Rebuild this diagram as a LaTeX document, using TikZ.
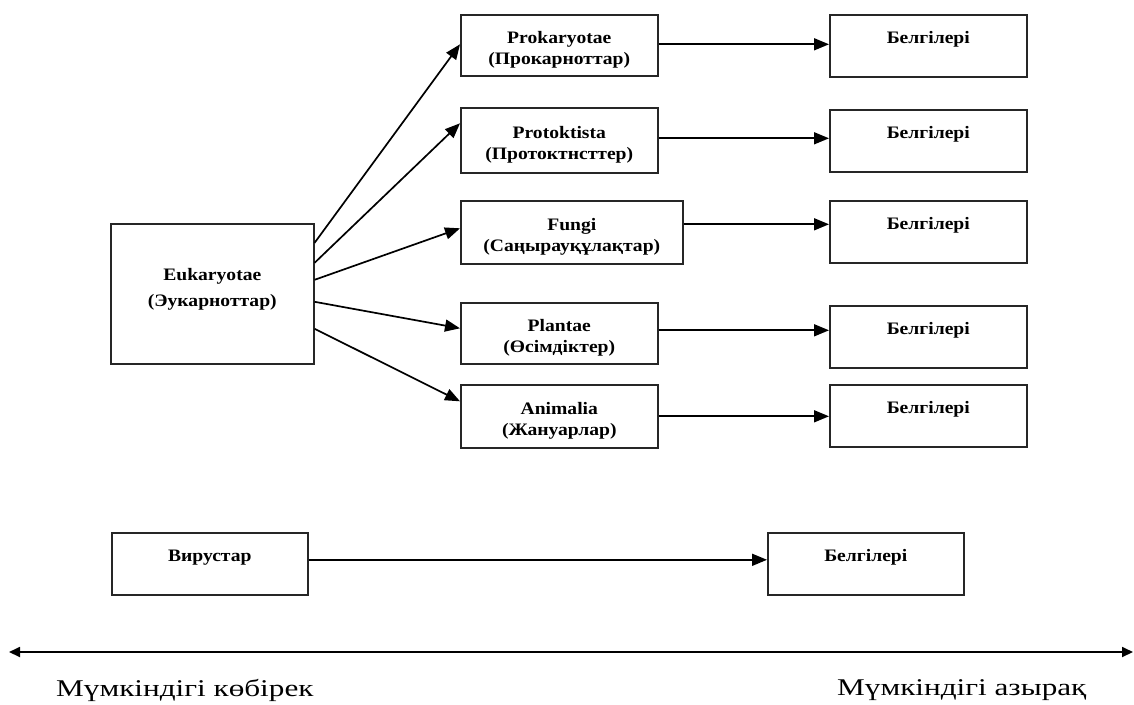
\documentclass[tikz,border=0pt]{standalone}
\usepackage{fontspec}
\setmainfont{Liberation Serif}
\newfontfamily\boxfont[FakeStretch=1.12]{Liberation Serif}
\newfontfamily\axisfont[FakeStretch=1.3]{Liberation Serif}
\usetikzlibrary{arrows.meta}
\begin{document}
\begin{tikzpicture}[x=1pt,y=-1pt,
  box/.style={draw=black!85, line width=1.6pt, rectangle, inner sep=0pt, anchor=north west,
    align=center, font=\boxfont\bfseries\fontsize{17.5}{21}\selectfont},
  onebox/.style={box, text height=29pt, text depth=33pt},
  arr/.style={line width=1.7pt, -{Triangle[length=15pt,width=12pt]}},
  axisarr/.style={line width=1.8pt, {Triangle[length=11pt,width=10pt]}-{Triangle[length=11pt,width=10pt]}},
  axislabel/.style={anchor=west, inner sep=0pt, font=\axisfont\fontsize{24}{27}\selectfont}]
\useasboundingbox (0,0) rectangle (1134,704);
% left box
\node[box, minimum width=203pt, minimum height=140pt] (euk) at (110,223) {Eukaryotae\\[5pt](Эукарноттар)\\[-8pt]\mbox{}};
% middle boxes
\node[box, minimum width=197pt, minimum height=61pt] (prok) at (460,14) {\strut\\[-15pt]Prokaryotae\\(Прокарноттар)};
\node[box, minimum width=197pt, minimum height=65pt] (prot) at (460,107) {\strut\\[-15pt]Protoktista\\(Протоктнсттер)};
\node[box, minimum width=222pt, minimum height=63pt] (fungi) at (460,200) {\strut\\[-15pt]Fungi\\(Саңырауқұлақтар)};
\node[box, minimum width=197pt, minimum height=61pt] (plant) at (460,302) {\strut\\[-15pt]Plantae\\(Өсімдіктер)};
\node[box, minimum width=197pt, minimum height=63pt] (anim) at (460,384) {\strut\\[-15pt]Animalia\\(Жануарлар)};
% right boxes
\node[onebox, minimum width=197pt] (b1) at (829,14) {Белгілері};
\node[onebox, minimum width=197pt] (b2) at (829,109) {Белгілері};
\node[onebox, minimum width=197pt] (b3) at (829,200) {Белгілері};
\node[onebox, minimum width=197pt] (b4) at (829,305) {Белгілері};
\node[onebox, minimum width=197pt] (b5) at (829,384) {Белгілері};
% bottom boxes
\node[onebox, minimum width=196pt] (vir) at (111,532) {Вирустар};
\node[onebox, minimum width=196pt] (b6) at (767,532) {Белгілері};
% fan arrows
\draw[arr] ([yshift=51pt]euk.east) -- ([yshift=1pt]prok.west);
\draw[arr] ([yshift=31pt]euk.east) -- ([yshift=17pt]prot.west);
\draw[arr] ([yshift=14pt]euk.east) -- ([yshift=4pt]fungi.west);
\draw[arr] ([yshift=-8pt]euk.east) -- ([yshift=5pt]plant.west);
\draw[arr] ([yshift=-35pt]euk.east) -- ([yshift=15pt]anim.west);
% horizontal arrows
\draw[arr] ([yshift=1pt]prok.east) -- ([yshift=1pt]prok.east -| b1.west);
\draw[arr] ([yshift=2pt]prot.east) -- ([yshift=2pt]prot.east -| b2.west);
\draw[arr] ([yshift=8pt]fungi.east) -- ([yshift=8pt]fungi.east -| b3.west);
\draw[arr] ([yshift=3pt]plant.east) -- ([yshift=3pt]plant.east -| b4.west);
\draw[arr] (anim.east) -- (anim.east -| b5.west);
\draw[arr] ([yshift=4pt]vir.east) -- ([yshift=4pt]vir.east -| b6.west);
% axis
\coordinate (axL) at (9,652);
\coordinate (axR) at (1133,652);
\draw[axisarr] (axL) -- (axR);
\node[axislabel] (more) at (56,690) {Мүмкіндігі көбірек};
\node[axislabel] (less) at (837,690) {Мүмкіндігі азырақ};
\end{tikzpicture}
\end{document}
